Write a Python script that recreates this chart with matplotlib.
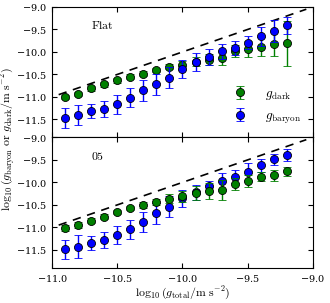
import numpy as np
import matplotlib
matplotlib.use('Agg')
import matplotlib.pyplot as plt

plt.rcParams['mathtext.fontset'] = 'cm'
plt.rcParams['font.family'] = 'serif'
plt.rcParams['font.serif'] = ['DejaVu Serif']
plt.rcParams['axes.formatter.use_mathtext'] = True
plt.rcParams['font.size'] = 7

# log10(g_total) bin centres
x = [-10.9, -10.8, -10.7, -10.6, -10.5, -10.4, -10.3, -10.2, -10.1,
     -10.0, -9.9, -9.8, -9.7, -9.6, -9.5, -9.4, -9.3, -9.2]

# Panel 1: Flat
flat_dark = [-11.0, -10.93, -10.81, -10.72, -10.63, -10.55, -10.48, -10.40, -10.33,
             -10.29, -10.22, -10.17, -10.13, -9.98, -9.94, -9.88, -9.82, -9.81]
flat_dark_err = [0.05, 0.05, 0.05, 0.05, 0.05, 0.05, 0.05, 0.05, 0.06,
                 0.08, 0.1, 0.12, 0.16, 0.14, 0.18, 0.22, 0.28, 0.5]
flat_bar = [-11.46, -11.40, -11.31, -11.26, -11.16, -11.02, -10.85, -10.72, -10.57,
            -10.38, -10.22, -10.11, -9.99, -9.91, -9.79, -9.65, -9.53, -9.41]
flat_bar_err = [0.22, 0.23, 0.16, 0.18, 0.21, 0.21, 0.23, 0.23, 0.23,
                0.21, 0.2, 0.18, 0.16, 0.15, 0.15, 0.21, 0.24, 0.19]

# Panel 2: 05
p05_dark = [-11.01, -10.95, -10.85, -10.76, -10.66, -10.57, -10.50, -10.43, -10.36,
            -10.31, -10.24, -10.19, -10.17, -10.04, -9.97, -9.87, -9.84, -9.75]
p05_dark_err = [0.06, 0.06, 0.05, 0.05, 0.05, 0.05, 0.06, 0.07, 0.1,
                0.12, 0.16, 0.18, 0.22, 0.13, 0.14, 0.1, 0.12, 0.1]
p05_bar = [-11.49, -11.43, -11.35, -11.28, -11.17, -11.04, -10.88, -10.69, -10.54,
           -10.35, -10.22, -10.08, -9.97, -9.87, -9.77, -9.62, -9.49, -9.39]
p05_bar_err = [0.21, 0.25, 0.16, 0.18, 0.2, 0.21, 0.23, 0.23, 0.24,
               0.19, 0.17, 0.11, 0.18, 0.15, 0.19, 0.15, 0.13, 0.13]

fig, axes = plt.subplots(2, 1, sharex=True, figsize=(3.3, 3.03), dpi=100)
fig.subplots_adjust(left=0.158, right=0.948, top=0.977, bottom=0.116, hspace=0)

style = dict(fmt='o', ms=5.8, mec='black', mew=0.6, capsize=2.8, elinewidth=1.0, capthick=1.0)
line = np.array([-10.95, -9.05])

panels = [
    (axes[0], r'$\mathrm{Flat}$', flat_dark, flat_dark_err, flat_bar, flat_bar_err, False),
    (axes[1], r'$05$', p05_dark, p05_dark_err, p05_bar, p05_bar_err, True),
]

for ax, name, dk, dke, br, bre, green_top in panels:
    ax.plot(line, line, 'k--', lw=1.2, dashes=(5, 4))
    zg, zb = (4, 3) if green_top else (3, 4)
    ax.errorbar(x, dk, yerr=dke, color='green', mfc='green', label=r'$g_\mathrm{dark}$', zorder=zg, **style)
    ax.errorbar(x, br, yerr=bre, color='blue', mfc='blue', label=r'$g_\mathrm{baryon}$', zorder=zb, **style)
    ax.set_xlim(-11.0, -9.0)
    ax.set_ylim(-11.9, -9.0)
    ax.set_yticks([-11.5, -11.0, -10.5, -10.0, -9.5, -9.0])
    ax.set_xticks([-11.0, -10.5, -10.0, -9.5, -9.0])
    ax.tick_params(direction='in', top=True, right=True, length=3.5, width=0.8, labelsize=7)
    ax.text(0.15, 0.83, name, transform=ax.transAxes, fontsize=8.5)

axes[0].legend(loc='lower right', frameon=False, fontsize=9.5, handletextpad=0.9,
               borderaxespad=0.5, labelspacing=0.55)
axes[1].set_xlabel(r'$\log_{10}(g_\mathrm{total}/\mathrm{m\ s^{-2}})$', fontsize=8.5, labelpad=1)
fig.text(0.025, 0.54, r'$\log_{10}(g_\mathrm{baryon}\ \mathrm{or}\ g_\mathrm{dark}/\mathrm{m\ s^{-2}})$',
         rotation=90, ha='center', va='center', fontsize=8.5)

plt.savefig('out.png', dpi=100)
